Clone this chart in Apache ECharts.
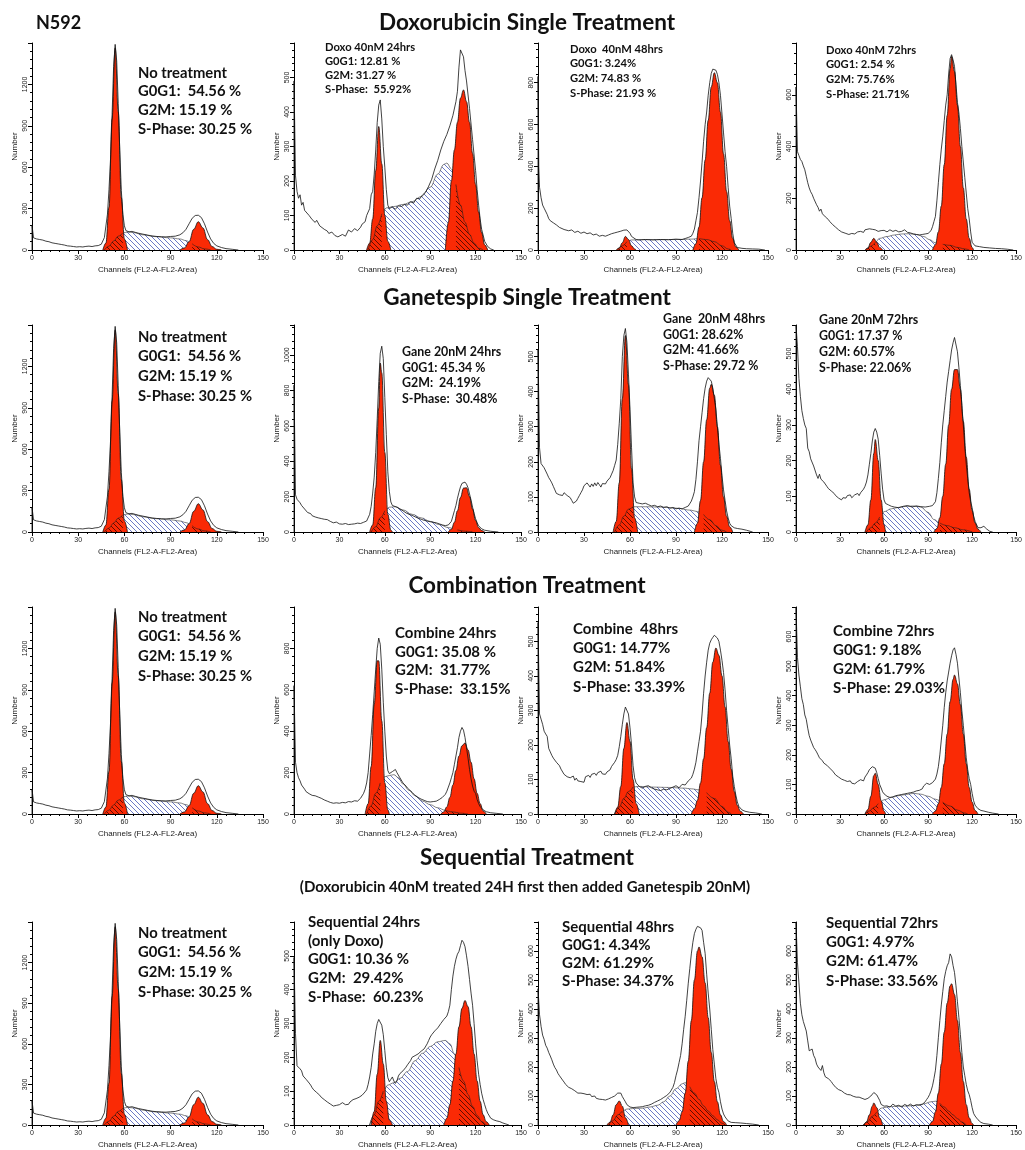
<!DOCTYPE html>
<html>
<head>
<meta charset="utf-8">
<script src="https://cdn.jsdelivr.net/npm/echarts@6/dist/echarts.min.js"></script>
<style>
html, body { margin: 0; padding: 0; background: #fff; }
#chart { width: 1025px; height: 1150px; }
</style>
</head>
<body>
<div id="chart"></div>
<script>
// ---- data: [channel, count] ----
// control (no treatment), repeated in the first column of every row
var rawCtrl = [[0,0],[0,180],[1,88],[3,80],[5,76],[7,72],[9,64],[11,60],[13,52],[15,48],[17,44],[19,40],[21,36],[23,30],[25,28],[27,25],[29,22],[31,24],[33,22],[35,26],[37,28],[39,25],[41,30],[43,32],[45,42],[47,90],[49,260],[50,440],[51,660],[52,980],[53,1330],[54,1490],[55,1370],[56,1060],[57,720],[58,430],[59,260],[60,175],[61,140],[63,132],[65,135],[67,128],[69,122],[72,115],[75,108],[78,102],[81,98],[84,96],[87,95],[90,98],[93,100],[96,110],[98,125],[100,150],[102,190],[104,230],[106,250],[107,256],[108,252],[110,235],[112,190],[114,130],[116,80],[118,48],[120,30],[123,18],[126,10],[130,5],[134,0]];
var g1Ctrl = [[46,0],[48,50],[50,310],[52,950],[54,1465],[56,1000],[58,380],[60,80],[62,0]];
var sCtrl = [[47,0],[50,28],[53,65],[56,100],[59,124],[62,130],[66,126],[72,110],[80,97],[90,88],[96,80],[100,68],[104,45],[108,22],[112,8],[116,0]];
var g2Ctrl = [[96,0],[99,15],[102,60],[105,150],[108,205],[111,160],[114,75],[117,25],[120,5],[123,0]];

// doxorubicin 40nM
var rawDoxo24 = [[0,0],[0,490],[1,215],[2,170],[3,150],[4,160],[5,130],[6,138],[7,115],[8,120],[10,100],[11,105],[12,88],[14,80],[15,86],[17,70],[18,74],[20,60],[22,55],[23,48],[25,52],[27,42],[29,38],[30,36],[32,45],[34,40],[36,58],[38,52],[40,62],[42,56],[44,66],[45,75],[46,70],[47,82],[48,100],[49,96],[50,120],[51,160],[52,170],[53,220],[54,290],[55,370],[56,420],[57,435],[58,380],[59,300],[60,240],[61,175],[62,130],[63,120],[65,125],[67,118],[69,128],[71,126],[73,132],[75,130],[77,140],[79,136],[81,150],[83,148],[85,160],[87,168],[89,185],[91,205],[93,235],[95,260],[97,290],[99,315],[101,335],[103,360],[105,390],[107,430],[108,460],[109,530],[110,580],[111,575],[112,560],[113,520],[114,490],[116,410],[118,320],[120,230],[121,175],[122,130],[123,90],[124,60],[126,25],[128,10],[130,3],[132,0]];
var g1Doxo24 = [[48,0],[50,20],[52,90],[54,230],[56,358],[58,250],[60,100],[62,25],[64,0]];
var sDoxo24 = [[49,0],[52,30],[55,70],[58,105],[61,122],[66,126],[72,132],[78,140],[84,155],[90,182],[95,220],[99,248],[101,252],[104,235],[107,190],[110,130],[113,80],[116,45],[119,20],[122,5],[125,0]];
var g2Doxo24 = [[100,0],[102,80],[104,200],[106,290],[108,370],[110,440],[112,464],[114,430],[116,370],[118,280],[120,190],[122,110],[124,50],[126,15],[128,0]];

var rawDoxo48 = [[0,0],[0,830],[0.5,400],[1,300],[2,250],[3,215],[4,200],[5,195],[6,170],[7,150],[8,140],[9,135],[10,130],[12,120],[14,108],[15,112],[17,98],[18,104],[20,92],[22,96],[24,84],[26,90],[28,80],[30,86],[32,78],[34,82],[36,72],[38,76],[40,66],[42,70],[44,66],[46,72],[48,78],[50,82],[52,86],[54,90],[56,95],[57,98],[58,96],[60,80],[61,65],[62,56],[64,50],[66,48],[70,50],[75,48],[80,50],[85,49],[90,52],[94,50],[96,55],[98,60],[100,66],[101,80],[102,100],[103,140],[104,180],[105,250],[106,330],[107,420],[108,520],[109,600],[110,660],[111,740],[112,800],[113,845],[114,865],[115,870],[116,860],[117,840],[118,800],[119,740],[120,650],[121,560],[122,470],[123,400],[124,300],[125,210],[126,150],[127,80],[128,35],[130,12],[133,8],[136,6],[140,5],[144,4],[148,0]];
var g1Doxo48 = [[51,0],[53,10],[55,35],[57,65],[59,50],[61,20],[63,5],[64,0]];
var sDoxo48 = [[52,0],[55,20],[58,40],[61,48],[70,50],[80,50],[90,50],[100,52],[105,55],[110,50],[115,40],[120,20],[124,5],[126,0]];
var g2Doxo48 = [[101,0],[103,30],[105,110],[107,250],[109,430],[111,620],[113,780],[115,848],[117,800],[119,660],[121,460],[123,280],[125,140],[127,55],[129,15],[131,0]];

var rawDoxo72 = [[0,0],[0,630],[1,380],[2,365],[3,350],[4,342],[5,325],[6,310],[7,285],[8,260],[9,240],[10,225],[11,215],[12,200],[13,195],[14,175],[15,165],[16,150],[17,158],[18,140],[19,135],[20,128],[21,132],[22,118],[23,110],[24,104],[25,98],[26,94],[27,88],[28,82],[29,78],[30,74],[31,70],[32,66],[34,64],[36,60],[38,64],[40,62],[42,70],[44,72],[46,68],[47,78],[48,76],[50,82],[51,75],[52,80],[54,78],[56,72],[58,75],[60,76],[62,70],[64,78],[66,72],[68,76],[70,70],[72,72],[74,78],[76,68],[78,66],[80,62],[82,60],[84,58],[86,60],[88,62],[90,64],[92,75],[93,90],[94,110],[95,130],[96,190],[97,260],[98,330],[99,390],[100,440],[101,500],[102,560],[103,600],[104,680],[105,740],[106,755],[107,735],[108,710],[109,640],[110,570],[111,530],[112,470],[113,400],[114,340],[115,280],[116,220],[117,160],[118,120],[119,70],[120,30],[122,16],[125,13],[128,10],[132,8],[136,6],[140,5],[144,3],[148,0]];
var g1Doxo72 = [[47,0],[49,8],[51,30],[53,45],[55,30],[57,10],[59,0]];
var sDoxo72 = [[48,0],[51,15],[54,30],[57,45],[62,52],[67,58],[72,62],[77,63],[82,60],[87,52],[91,40],[95,28],[100,22],[105,18],[110,10],[115,4],[118,0]];
var g2Doxo72 = [[93,0],[95,20],[97,70],[99,170],[101,330],[103,520],[105,700],[106,748],[108,690],[110,560],[112,400],[114,240],[116,120],[118,45],[120,10],[121,0]];

// ganetespib 20nM
var rawGane24 = [[0,0],[0,830],[1,210],[2,185],[3,178],[4,165],[5,150],[6,144],[7,130],[8,122],[9,110],[10,100],[11,104],[12,92],[13,96],[14,85],[15,88],[16,80],[17,84],[18,76],[20,72],[21,66],[22,70],[24,60],[25,64],[26,52],[28,56],[30,46],[32,44],[34,48],[36,42],[38,44],[40,46],[42,50],[44,48],[46,55],[48,62],[49,70],[50,100],[51,145],[52,220],[53,310],[54,450],[55,640],[56,850],[57,1010],[58,1050],[59,980],[60,760],[61,550],[62,340],[63,230],[64,170],[65,150],[66,145],[68,140],[70,130],[72,120],[74,108],[76,100],[78,94],[80,86],[82,78],[84,72],[86,66],[88,62],[90,58],[92,55],[94,52],[96,46],[98,40],[100,36],[102,40],[103,48],[104,60],[105,90],[106,120],[107,150],[108,190],[109,225],[110,255],[111,275],[112,285],[113,282],[114,270],[115,250],[116,215],[117,180],[118,140],[119,105],[120,75],[121,52],[122,35],[124,18],[126,10],[130,4],[135,0]];
var g1Gane24 = [[50,0],[52,40],[54,250],[56,700],[57,955],[58,900],[60,450],[62,100],[64,10],[65,0]];
var sGane24 = [[51,0],[54,30],[57,80],[60,120],[63,140],[67,143],[72,125],[78,100],[84,80],[90,60],[96,42],[102,25],[108,12],[114,4],[118,0]];
var g2Gane24 = [[102,0],[104,15],[106,55],[108,120],[110,195],[112,248],[114,250],[116,200],[118,130],[120,65],[122,25],[124,8],[126,0]];

var rawGane48 = [[0,0],[0,520],[1,240],[2,195],[3,190],[4,183],[5,180],[6,165],[7,155],[8,148],[9,140],[10,130],[11,120],[12,110],[13,112],[14,106],[15,110],[16,104],[17,112],[18,115],[19,104],[20,100],[21,98],[22,90],[23,82],[24,80],[25,88],[26,96],[27,104],[28,112],[29,120],[30,132],[31,128],[32,140],[33,134],[34,128],[35,137],[36,130],[37,140],[38,132],[39,141],[40,135],[41,128],[42,138],[43,133],[44,137],[45,145],[46,150],[47,155],[48,165],[49,175],[50,190],[51,205],[52,250],[53,310],[54,380],[55,500],[56,560],[57,580],[58,540],[59,450],[60,350],[61,240],[62,140],[63,100],[64,84],[66,82],[68,80],[70,82],[72,78],[74,74],[76,76],[78,72],[80,74],[82,70],[84,72],[86,68],[88,70],[90,66],[92,68],[94,66],[96,70],[98,74],[100,88],[101,100],[102,115],[103,150],[104,200],[105,260],[106,300],[107,340],[108,380],[109,410],[110,430],[111,440],[112,438],[113,430],[114,410],[115,380],[116,350],[117,300],[118,250],[119,210],[120,160],[121,120],[122,90],[123,60],[124,40],[125,25],[126,18],[128,12],[130,10],[133,8],[136,5],[140,0]];
var g1Gane48 = [[49,0],[51,30],[53,140],[55,380],[57,560],[59,420],[61,180],[63,40],[65,0]];
var sGane48 = [[50,0],[53,20],[56,45],[59,65],[62,72],[70,72],[80,71],[90,68],[100,62],[104,58],[108,50],[112,35],[116,18],[120,5],[123,0]];
var g2Gane48 = [[102,0],[104,25],[106,90],[108,200],[110,320],[112,410],[113,421],[115,390],[117,300],[119,190],[121,100],[123,45],[125,15],[127,0]];

var rawGane72 = [[0,0],[0,580],[1,520],[2,430],[3,380],[4,340],[5,318],[6,300],[7,290],[8,235],[9,225],[10,205],[11,200],[12,185],[13,190],[14,160],[15,150],[16,162],[17,148],[18,150],[19,140],[20,135],[21,128],[22,122],[23,124],[24,115],[25,112],[26,108],[27,102],[28,100],[29,95],[30,92],[31,90],[32,96],[33,100],[34,95],[35,102],[36,98],[37,104],[38,96],[39,98],[40,104],[41,100],[42,108],[43,102],[44,110],[45,115],[46,120],[47,128],[48,140],[49,160],[50,190],[51,220],[52,255],[53,280],[54,290],[55,280],[56,260],[57,215],[58,165],[59,120],[60,90],[61,80],[63,76],[65,72],[67,70],[70,68],[73,72],[76,74],[79,70],[82,73],[85,71],[88,70],[91,72],[93,74],[95,85],[96,110],[97,150],[98,195],[99,250],[100,300],[101,340],[102,380],[103,420],[104,450],[105,480],[106,510],[107,530],[108,545],[109,540],[110,505],[111,460],[112,410],[113,355],[114,300],[115,240],[116,190],[117,150],[118,110],[119,85],[120,68],[121,45],[122,30],[124,12],[126,12],[128,16],[130,8],[132,2],[134,0]];
var g1Gane72 = [[47,0],[49,20],[51,90],[53,220],[54,259],[56,200],[58,90],[60,20],[61,0]];
var sGane72 = [[48,0],[51,12],[54,25],[57,42],[60,57],[65,65],[70,69],[75,72],[80,73],[85,70],[90,55],[94,35],[98,25],[103,18],[108,12],[114,6],[120,0]];
var g2Gane72 = [[94,0],[96,10],[98,40],[100,100],[102,190],[104,300],[106,400],[108,455],[110,455],[112,400],[114,310],[116,210],[118,120],[120,60],[122,25],[124,8],[126,0]];

// combination
var rawComb24 = [[0,0],[0,620],[1,250],[2,200],[3,175],[4,160],[5,140],[6,136],[7,120],[8,108],[9,100],[10,98],[11,92],[12,90],[13,85],[14,88],[15,80],[16,82],[17,74],[18,76],[19,70],[20,68],[22,62],[24,56],[26,52],[28,54],[30,52],[32,56],[34,54],[36,60],[38,58],[40,64],[42,62],[43,70],[44,76],[45,82],[46,100],[47,120],[48,150],[49,200],[50,290],[51,380],[52,480],[53,590],[54,700],[55,800],[56,850],[57,820],[58,700],[59,540],[60,400],[61,280],[62,210],[63,195],[64,200],[65,205],[66,210],[67,215],[68,200],[69,192],[70,175],[71,168],[72,150],[73,145],[74,135],[75,125],[76,118],[78,105],[80,90],[82,80],[84,72],[86,66],[88,60],[90,58],[92,60],[94,62],[96,70],[98,80],[100,95],[101,110],[102,130],[103,150],[104,175],[105,200],[106,240],[107,280],[108,320],[109,370],[110,400],[111,418],[112,405],[113,370],[114,320],[115,270],[116,215],[117,170],[118,135],[119,110],[120,100],[121,70],[122,50],[123,36],[125,20],[127,11],[130,6],[134,3],[138,0]];
var g1Comb24 = [[47,0],[49,50],[51,230],[53,530],[55,740],[56,740],[58,450],[60,150],[62,20],[63,0]];
var sComb24 = [[48,0],[51,40],[54,100],[57,150],[60,180],[63,186],[66,190],[69,175],[72,145],[76,115],[80,88],[85,62],[90,45],[95,30],[100,18],[105,10],[110,4],[115,0]];
var g2Comb24 = [[97,0],[99,10],[101,35],[103,80],[105,140],[107,210],[109,280],[111,330],[113,343],[115,310],[117,250],[119,170],[121,100],[123,50],[125,15],[127,0]];

var rawComb48 = [[0,0],[0,555],[1,290],[2,275],[3,260],[4,240],[5,232],[6,225],[7,190],[8,180],[9,170],[10,162],[11,158],[12,150],[13,145],[14,140],[15,130],[16,128],[17,115],[18,118],[19,108],[20,112],[21,105],[22,104],[23,110],[24,98],[25,104],[26,96],[27,100],[28,94],[29,98],[30,92],[31,108],[32,104],[33,112],[34,106],[35,115],[36,110],[37,118],[38,112],[39,120],[40,118],[41,124],[42,116],[43,120],[44,115],[45,122],[46,120],[47,128],[48,138],[49,140],[50,150],[51,158],[52,170],[53,195],[54,225],[55,260],[56,290],[57,310],[58,312],[59,290],[60,250],[61,200],[62,140],[63,105],[64,90],[66,80],[68,75],[70,80],[72,82],[74,76],[76,72],[78,70],[80,68],[82,72],[84,70],[86,74],[88,78],[90,82],[92,76],[94,86],[96,84],[98,96],[100,104],[101,115],[102,130],[103,150],[104,180],[105,210],[106,240],[107,290],[108,350],[109,400],[110,440],[111,475],[112,495],[113,505],[114,512],[115,518],[116,515],[117,510],[118,500],[119,475],[120,445],[121,410],[122,360],[123,300],[124,250],[125,200],[126,160],[127,110],[128,80],[129,55],[130,35],[131,22],[133,12],[135,8],[138,5],[142,3],[146,0]];
var g1Comb48 = [[50,0],[52,20],[54,80],[56,190],[58,265],[60,210],[62,100],[64,30],[66,0]];
var sComb48 = [[50,0],[53,20],[56,45],[59,65],[62,78],[66,80],[75,78],[85,77],[95,75],[100,73],[105,70],[110,62],[115,45],[120,22],[124,5],[126,0]];
var g2Comb48 = [[100,0],[102,15],[104,40],[106,90],[108,160],[110,250],[112,350],[114,440],[116,481],[118,460],[120,400],[122,310],[124,210],[126,130],[128,65],[130,25],[132,8],[134,0]];

var rawComb72 = [[0,0],[0,700],[1,530],[2,470],[3,430],[4,390],[5,370],[6,335],[7,320],[8,290],[9,265],[10,250],[11,245],[12,225],[13,218],[14,210],[15,200],[16,190],[17,195],[18,180],[19,172],[20,175],[21,165],[22,160],[23,155],[24,150],[25,145],[26,140],[27,132],[28,130],[29,125],[30,122],[31,118],[32,122],[33,114],[34,112],[35,110],[36,108],[37,112],[38,104],[39,106],[40,102],[41,108],[42,110],[43,104],[44,116],[45,120],[46,112],[47,125],[48,132],[49,140],[50,150],[51,155],[52,160],[53,162],[54,155],[55,140],[56,120],[57,100],[58,88],[59,75],[60,68],[62,60],[64,56],[66,58],[68,62],[70,64],[72,66],[74,68],[76,70],[78,72],[80,74],[82,78],[84,80],[86,85],[87,95],[88,100],[89,104],[90,98],[91,100],[92,104],[93,106],[94,110],[95,118],[96,135],[97,160],[98,200],[99,250],[100,300],[101,360],[102,410],[103,450],[104,480],[105,510],[106,535],[107,555],[108,562],[109,540],[110,510],[111,460],[112,410],[113,350],[114,300],[115,245],[116,190],[117,150],[118,120],[119,100],[120,70],[121,45],[122,30],[124,18],[126,12],[128,10],[131,6],[134,3],[138,0]];
var g1Comb72 = [[47,0],[49,15],[51,60],[53,130],[54,138],[56,100],[58,45],[60,10],[61,0]];
var sComb72 = [[47,0],[50,10],[53,22],[56,35],[60,48],[65,56],[70,62],[75,66],[80,70],[85,67],[90,60],[95,50],[100,40],[105,27],[110,13],[115,3],[117,0]];
var g2Comb72 = [[93,0],[95,10],[97,35],[99,90],[101,170],[103,270],[105,380],[107,455],[108,470],[110,440],[112,370],[114,270],[116,170],[118,90],[120,40],[122,12],[124,0]];

// sequential
var rawSeq24 = [[0,0],[0,495],[1,270],[2,175],[3,170],[4,166],[5,160],[6,145],[7,140],[8,135],[9,130],[10,124],[11,118],[12,110],[13,104],[14,100],[15,96],[16,94],[17,88],[18,82],[19,78],[20,75],[21,72],[22,68],[23,65],[24,62],[25,58],[26,56],[27,54],[28,58],[29,56],[30,60],[31,64],[32,66],[33,62],[34,60],[35,64],[36,61],[37,68],[38,72],[39,75],[40,74],[41,78],[42,80],[43,82],[44,86],[45,88],[46,92],[47,98],[48,104],[49,120],[50,142],[51,170],[52,210],[53,240],[54,277],[55,300],[56,312],[57,315],[58,295],[59,267],[60,220],[61,171],[62,140],[63,128],[64,135],[65,142],[66,130],[67,123],[68,130],[69,145],[70,152],[71,150],[72,160],[73,165],[74,171],[75,178],[76,182],[77,190],[78,200],[79,196],[80,205],[81,208],[82,210],[83,212],[84,218],[85,222],[86,225],[87,229],[88,240],[89,250],[90,260],[91,267],[92,272],[93,278],[94,282],[95,287],[96,292],[97,300],[98,305],[99,312],[100,315],[101,322],[102,335],[103,354],[104,400],[105,440],[106,469],[107,490],[108,505],[109,513],[110,530],[111,546],[112,540],[113,527],[114,500],[115,469],[116,430],[117,390],[118,354],[119,300],[120,240],[121,190],[122,150],[123,120],[124,94],[125,75],[126,60],[127,46],[128,35],[130,20],[132,15],[134,12],[136,10],[138,6],[140,3],[142,0]];
var g1Seq24 = [[51,0],[53,40],[55,150],[57,250],[59,180],[61,70],[63,15],[65,0]];
var sSeq24 = [[50,0],[53,30],[56,70],[59,100],[62,118],[66,125],[70,138],[75,158],[80,190],[85,212],[90,232],[95,246],[100,250],[103,240],[106,210],[109,170],[112,130],[115,90],[118,55],[121,28],[124,10],[127,0]];
var g2Seq24 = [[99,0],[101,20],[103,60],[105,130],[107,210],[109,290],[111,345],[113,368],[115,350],[117,290],[119,210],[121,130],[123,70],[125,30],[127,10],[129,0]];

var rawSeq48 = [[0,0],[0,470],[1,380],[2,340],[3,310],[4,295],[5,275],[6,265],[7,250],[8,238],[9,225],[10,210],[11,198],[12,190],[13,178],[14,170],[15,168],[16,155],[17,148],[18,140],[19,135],[20,130],[21,128],[22,125],[23,123],[24,118],[25,114],[26,110],[27,106],[28,110],[29,104],[30,108],[31,112],[32,105],[33,100],[34,106],[35,98],[36,95],[37,100],[38,92],[39,96],[40,89],[41,94],[42,88],[43,92],[44,86],[45,91],[46,90],[47,94],[48,95],[49,92],[50,100],[51,106],[52,110],[53,116],[54,110],[55,98],[56,89],[57,80],[58,70],[59,66],[60,62],[62,60],[64,61],[66,62],[68,63],[70,66],[72,68],[74,72],[76,78],[78,83],[80,88],[82,95],[84,102],[86,112],[88,130],[89,146],[90,170],[91,190],[92,215],[93,240],[94,280],[95,330],[96,375],[97,430],[98,489],[99,540],[100,590],[101,630],[102,660],[103,675],[104,685],[105,689],[106,680],[107,671],[108,630],[109,592],[110,520],[111,455],[112,400],[113,330],[114,260],[115,210],[116,160],[117,130],[118,112],[119,80],[120,55],[121,38],[122,28],[124,14],[126,9],[129,8],[132,7],[136,5],[140,3],[144,0]];
var g1Seq48 = [[45,0],[47,10],[49,35],[51,70],[53,83],[55,65],[57,25],[59,0]];
var sSeq48 = [[46,0],[49,15],[52,35],[55,48],[58,55],[63,57],[68,58],[73,62],[78,68],[82,80],[86,100],[90,125],[94,142],[96,146],[99,132],[102,110],[105,88],[108,66],[111,48],[114,32],[117,18],[120,6],[122,0]];
var g2Seq48 = [[90,0],[92,15],[94,45],[96,110],[98,220],[100,360],[102,500],[104,600],[105,614],[107,580],[109,490],[111,370],[113,250],[115,150],[117,80],[119,35],[121,12],[123,0]];

var rawSeq72 = [[0,0],[0,700],[1,560],[2,490],[3,420],[4,380],[5,357],[6,362],[7,324],[8,290],[9,256],[10,250],[11,262],[12,240],[13,230],[14,210],[15,200],[16,195],[17,188],[18,205],[19,180],[20,166],[21,162],[22,160],[23,155],[24,150],[25,142],[26,136],[27,130],[28,126],[29,122],[30,116],[31,118],[32,112],[33,110],[34,106],[35,105],[36,102],[37,104],[38,100],[39,99],[40,101],[41,96],[42,94],[43,96],[44,93],[45,92],[46,90],[47,88],[48,88],[49,92],[50,96],[51,100],[52,106],[53,112],[54,110],[55,104],[56,98],[57,85],[58,71],[59,68],[60,65],[62,66],[64,62],[66,72],[68,65],[70,68],[72,62],[74,71],[76,66],[78,72],[80,65],[82,70],[84,68],[86,71],[87,75],[88,80],[89,88],[90,95],[91,105],[92,118],[93,135],[94,160],[95,189],[96,240],[97,301],[98,360],[99,414],[100,460],[101,504],[102,530],[103,549],[104,560],[105,590],[106,580],[107,550],[108,526],[109,480],[110,425],[111,370],[112,312],[113,250],[114,200],[115,170],[116,140],[117,118],[118,105],[119,85],[120,60],[121,40],[122,31],[124,18],[126,9],[128,5],[131,3],[134,0]];
var g1Seq72 = [[46,0],[48,10],[50,35],[52,65],[53,76],[55,60],[57,25],[59,0]];
var sSeq72 = [[46,0],[49,12],[52,30],[55,45],[58,58],[62,62],[67,64],[72,65],[77,66],[82,68],[87,73],[92,80],[95,82],[98,75],[101,62],[104,48],[107,35],[110,22],[113,10],[116,0]];
var g2Seq72 = [[91,0],[93,12],[95,45],[97,110],[99,210],[101,320],[103,420],[105,480],[106,487],[108,450],[110,360],[112,250],[114,150],[116,70],[118,25],[120,5],[121,0]];

// ---- panel texts ----
var txtCtrl = ['No treatment', 'G0G1:  54.56 %', 'G2M: 15.19 %', 'S-Phase: 30.25 %'];
var txtDoxo24 = ['Doxo 40nM 24hrs', 'G0G1: 12.81 %', 'G2M: 31.27 %', 'S-Phase:  55.92%'];
var txtDoxo48 = ['Doxo  40nM 48hrs', 'G0G1: 3.24%', 'G2M: 74.83 %', 'S-Phase: 21.93 %'];
var txtDoxo72 = ['Doxo 40nM 72hrs', 'G0G1: 2.54 %', 'G2M: 75.76%', 'S-Phase: 21.71%'];
var txtGane24 = ['Gane 20nM 24hrs', 'G0G1: 45.34 %', 'G2M:  24.19%', 'S-Phase:  30.48%'];
var txtGane48 = ['Gane  20nM 48hrs', 'G0G1: 28.62%', 'G2M: 41.66%', 'S-Phase: 29.72 %'];
var txtGane72 = ['Gane 20nM 72hrs', 'G0G1: 17.37 %', 'G2M: 60.57%', 'S-Phase: 22.06%'];
var txtComb24 = ['Combine 24hrs', 'G0G1: 35.08 %', 'G2M:  31.77%', 'S-Phase:  33.15%'];
var txtComb48 = ['Combine  48hrs', 'G0G1: 14.77%', 'G2M: 51.84%', 'S-Phase: 33.39%'];
var txtComb72 = ['Combine 72hrs', 'G0G1: 9.18%', 'G2M: 61.79%', 'S-Phase: 29.03%'];
var txtSeq24 = ['Sequential 24hrs', '(only Doxo)', 'G0G1: 10.36 %', 'G2M:  29.42%', 'S-Phase:  60.23%'];
var txtSeq48 = ['Sequential 48hrs', 'G0G1: 4.34%', 'G2M: 61.29%', 'S-Phase: 34.37%'];
var txtSeq72 = ['Sequential 72hrs', 'G0G1: 4.97%', 'G2M: 61.47%', 'S-Phase: 33.56%'];

var rowTitles = ['Doxorubicin Single Treatment', 'Ganetespib Single Treatment', 'Combination Treatment', 'Sequential Treatment'];

// ---- layout ----
var colLeft = [32, 294, 538, 796];
var colWidth = [231, 227, 230, 229];
var rowTop = [43, 325, 607, 922];
var plotH = 207;

var panels = [
  {r: 0, c: 0, raw: rawCtrl, g1: g1Ctrl, s: sCtrl, g2: g2Ctrl, yMax: 1500, yStep: 300, txt: txtCtrl, tx: 138, ty: 73, lh: 18.7, fs: 14.8},
  {r: 0, c: 1, raw: rawDoxo24, g1: g1Doxo24, s: sDoxo24, g2: g2Doxo24, yMax: 600, yStep: 100, txt: txtDoxo24, tx: 325, ty: 47, lh: 14, fs: 11.2},
  {r: 0, c: 2, raw: rawDoxo48, g1: g1Doxo48, s: sDoxo48, g2: g2Doxo48, yMax: 990, yStep: 200, txt: txtDoxo48, tx: 570, ty: 49, lh: 14.7, fs: 11.2},
  {r: 0, c: 3, raw: rawDoxo72, g1: g1Doxo72, s: sDoxo72, g2: g2Doxo72, yMax: 800, yStep: 200, txt: txtDoxo72, tx: 826, ty: 50, lh: 14.7, fs: 11.2},
  {r: 1, c: 0, raw: rawCtrl, g1: g1Ctrl, s: sCtrl, g2: g2Ctrl, yMax: 1500, yStep: 300, txt: txtCtrl, tx: 138, ty: 337, lh: 19.7, fs: 14.8},
  {r: 1, c: 1, raw: rawGane24, g1: g1Gane24, s: sGane24, g2: g2Gane24, yMax: 1170, yStep: 200, txt: txtGane24, tx: 402, ty: 352, lh: 15.7, fs: 12.4},
  {r: 1, c: 2, raw: rawGane48, g1: g1Gane48, s: sGane48, g2: g2Gane48, yMax: 590, yStep: 100, txt: txtGane48, tx: 663, ty: 319, lh: 15.7, fs: 12.4},
  {r: 1, c: 3, raw: rawGane72, g1: g1Gane72, s: sGane72, g2: g2Gane72, yMax: 580, yStep: 100, txt: txtGane72, tx: 819, ty: 320, lh: 16, fs: 12.4},
  {r: 2, c: 0, raw: rawCtrl, g1: g1Ctrl, s: sCtrl, g2: g2Ctrl, yMax: 1500, yStep: 300, txt: txtCtrl, tx: 138, ty: 617, lh: 19.7, fs: 14.8},
  {r: 2, c: 1, raw: rawComb24, g1: g1Comb24, s: sComb24, g2: g2Comb24, yMax: 1000, yStep: 200, txt: txtComb24, tx: 395, ty: 633, lh: 18.7, fs: 15},
  {r: 2, c: 2, raw: rawComb48, g1: g1Comb48, s: sComb48, g2: g2Comb48, yMax: 600, yStep: 100, txt: txtComb48, tx: 573, ty: 629, lh: 19.3, fs: 15},
  {r: 2, c: 3, raw: rawComb72, g1: g1Comb72, s: sComb72, g2: g2Comb72, yMax: 700, yStep: 100, txt: txtComb72, tx: 833, ty: 631, lh: 19, fs: 15},
  {r: 3, c: 0, raw: rawCtrl, g1: g1Ctrl, s: sCtrl, g2: g2Ctrl, yMax: 1500, yStep: 300, txt: txtCtrl, tx: 138, ty: 933, lh: 19.7, fs: 14.8},
  {r: 3, c: 1, raw: rawSeq24, g1: g1Seq24, s: sSeq24, g2: g2Seq24, yMax: 600, yStep: 100, txt: txtSeq24, tx: 308, ty: 922, lh: 18.7, fs: 15},
  {r: 3, c: 2, raw: rawSeq48, g1: g1Seq48, s: sSeq48, g2: g2Seq48, yMax: 700, yStep: 100, txt: txtSeq48, tx: 562, ty: 927, lh: 18, fs: 15},
  {r: 3, c: 3, raw: rawSeq72, g1: g1Seq72, s: sSeq72, g2: g2Seq72, yMax: 700, yStep: 100, txt: txtSeq72, tx: 826, ty: 923, lh: 19.3, fs: 15}
];

// diagonal hatch tile for the S-phase areas
function hatch(bg, fg, size, w) {
  var c = document.createElement('canvas');
  c.width = size;
  c.height = size;
  var ctx = c.getContext('2d');
  if (bg) {
    ctx.fillStyle = bg;
    ctx.fillRect(0, 0, size, size);
  }
  ctx.strokeStyle = fg;
  ctx.lineWidth = w;
  ctx.beginPath();
  ctx.moveTo(-1, -1); ctx.lineTo(size + 1, size + 1);
  ctx.moveTo(-1, size - 1); ctx.lineTo(1, size + 1);
  ctx.moveTo(size - 1, -1); ctx.lineTo(size + 1, 1);
  ctx.stroke();
  return c;
}
var blueHatch = hatch('#ffffff', '#5a6ac0', 5, 0.9);
var darkHatch = hatch(null, 'rgba(40,0,0,0.8)', 5, 0.9);

// value of a peak curve at channel x (linear between read points)
function at(pts, x) {
  if (x < pts[0][0] || x > pts[pts.length - 1][0]) return 0;
  for (var i = 1; i < pts.length; i++) {
    if (x <= pts[i][0]) {
      var a = pts[i - 1], b = pts[i];
      return a[1] + (b[1] - a[1]) * (x - a[0]) / (b[0] - a[0]);
    }
  }
  return 0;
}

var RED = '#fa2a05';
var FONT = 'Lato';
var grids = [], xAxes = [], yAxes = [], series = [], graphics = [];

panels.forEach(function (p, i) {
  grids.push({left: colLeft[p.c], top: rowTop[p.r], width: colWidth[p.c], height: plotH});
  xAxes.push({
    type: 'value', gridIndex: i, min: 0, max: 150, interval: 30,
    axisLine: {lineStyle: {color: '#000', width: 1}},
    axisTick: {length: 4, lineStyle: {color: '#000'}},
    minorTick: {show: true, splitNumber: 5, length: 2, lineStyle: {color: '#000'}},
    splitLine: {show: false},
    axisLabel: {fontSize: 7, color: '#222', margin: 5, fontFamily: 'Liberation Sans'},
    name: 'Channels (FL2-A-FL2-Area)', nameLocation: 'middle', nameGap: 16,
    nameTextStyle: {fontSize: 8, color: '#222', fontFamily: 'Liberation Sans'}
  });
  yAxes.push({
    type: 'value', gridIndex: i, min: 0, max: p.yMax, interval: p.yStep,
    axisLine: {show: true, lineStyle: {color: '#000', width: 1}},
    axisTick: {show: true, length: 4, lineStyle: {color: '#000'}},
    minorTick: {show: true, splitNumber: 5, length: 2, lineStyle: {color: '#000'}},
    splitLine: {show: false},
    axisLabel: {
      fontSize: 7, color: '#222', rotate: 90, margin: 3, showMaxLabel: false, fontFamily: 'Liberation Sans',
      formatter: function (v) { return String(v); }
    },
    name: 'Number', nameLocation: 'middle', nameGap: 13,
    nameTextStyle: {fontSize: 8, color: '#222', fontFamily: 'Liberation Sans'}
  });

  var base = {type: 'line', xAxisIndex: i, yAxisIndex: i, symbol: 'none', silent: true, animation: false};

  // S-phase, blue hatch
  series.push(Object.assign({}, base, {
    data: p.s, smooth: 0.4, smoothMonotone: 'x', z: 1,
    lineStyle: {color: '#333', width: 0.6},
    areaStyle: {color: {image: blueHatch, repeat: 'repeat'}, opacity: 1}
  }));
  // G0G1 and G2M peaks
  [p.g1, p.g2].forEach(function (pk) {
    series.push(Object.assign({}, base, {
      data: pk, smooth: 0.4, smoothMonotone: 'x', z: 2,
      lineStyle: {color: '#111', width: 0.8},
      areaStyle: {color: RED, opacity: 1}
    }));
  });
  // S-phase part lying under the red peaks: dark hatch
  var under = p.s.map(function (pt) {
    var red = Math.max(at(p.g1, pt[0]), at(p.g2, pt[0]));
    return red >= pt[1] ? pt : [pt[0], '-'];
  });
  series.push(Object.assign({}, base, {
    data: under, smooth: 0.4, smoothMonotone: 'x', z: 3, connectNulls: false,
    lineStyle: {color: '#222', width: 0.6},
    areaStyle: {color: {image: darkHatch, repeat: 'repeat'}, opacity: 1}
  }));
  // measured histogram
  series.push(Object.assign({}, base, {
    data: p.raw, z: 4,
    lineStyle: {color: '#111', width: 0.8}
  }));

  p.txt.forEach(function (t, k) {
    graphics.push({
      type: 'text', x: p.tx, y: p.ty + k * p.lh, silent: true,
      style: {text: t, fill: '#111', fontSize: p.fs, fontWeight: 'bold', fontFamily: FONT, align: 'left', verticalAlign: 'middle'}
    });
  });
});

// headings
graphics.push({type: 'text', x: 36, y: 23, style: {text: 'N592', fill: '#111', fontSize: 18, fontWeight: 'bold', fontFamily: FONT, align: 'left', verticalAlign: 'middle'}});
var titleY = [23, 298, 586, 858];
rowTitles.forEach(function (t, k) {
  graphics.push({type: 'text', x: 527, y: titleY[k], style: {text: t, fill: '#111', fontSize: 22.5, fontWeight: 'bold', fontFamily: FONT, align: 'center', verticalAlign: 'middle'}});
});
graphics.push({type: 'text', x: 525, y: 887, style: {text: '(Doxorubicin 40nM treated 24H first then added Ganetespib 20nM)', fill: '#111', fontSize: 15, fontWeight: 'bold', fontFamily: FONT, align: 'center', verticalAlign: 'middle'}});

var chart = echarts.init(document.getElementById('chart'), null, {renderer: 'canvas'});
chart.setOption({
  animation: false,
  backgroundColor: '#fff',
  grid: grids,
  xAxis: xAxes,
  yAxis: yAxes,
  series: series,
  graphic: graphics
});
</script>
</body>
</html>
